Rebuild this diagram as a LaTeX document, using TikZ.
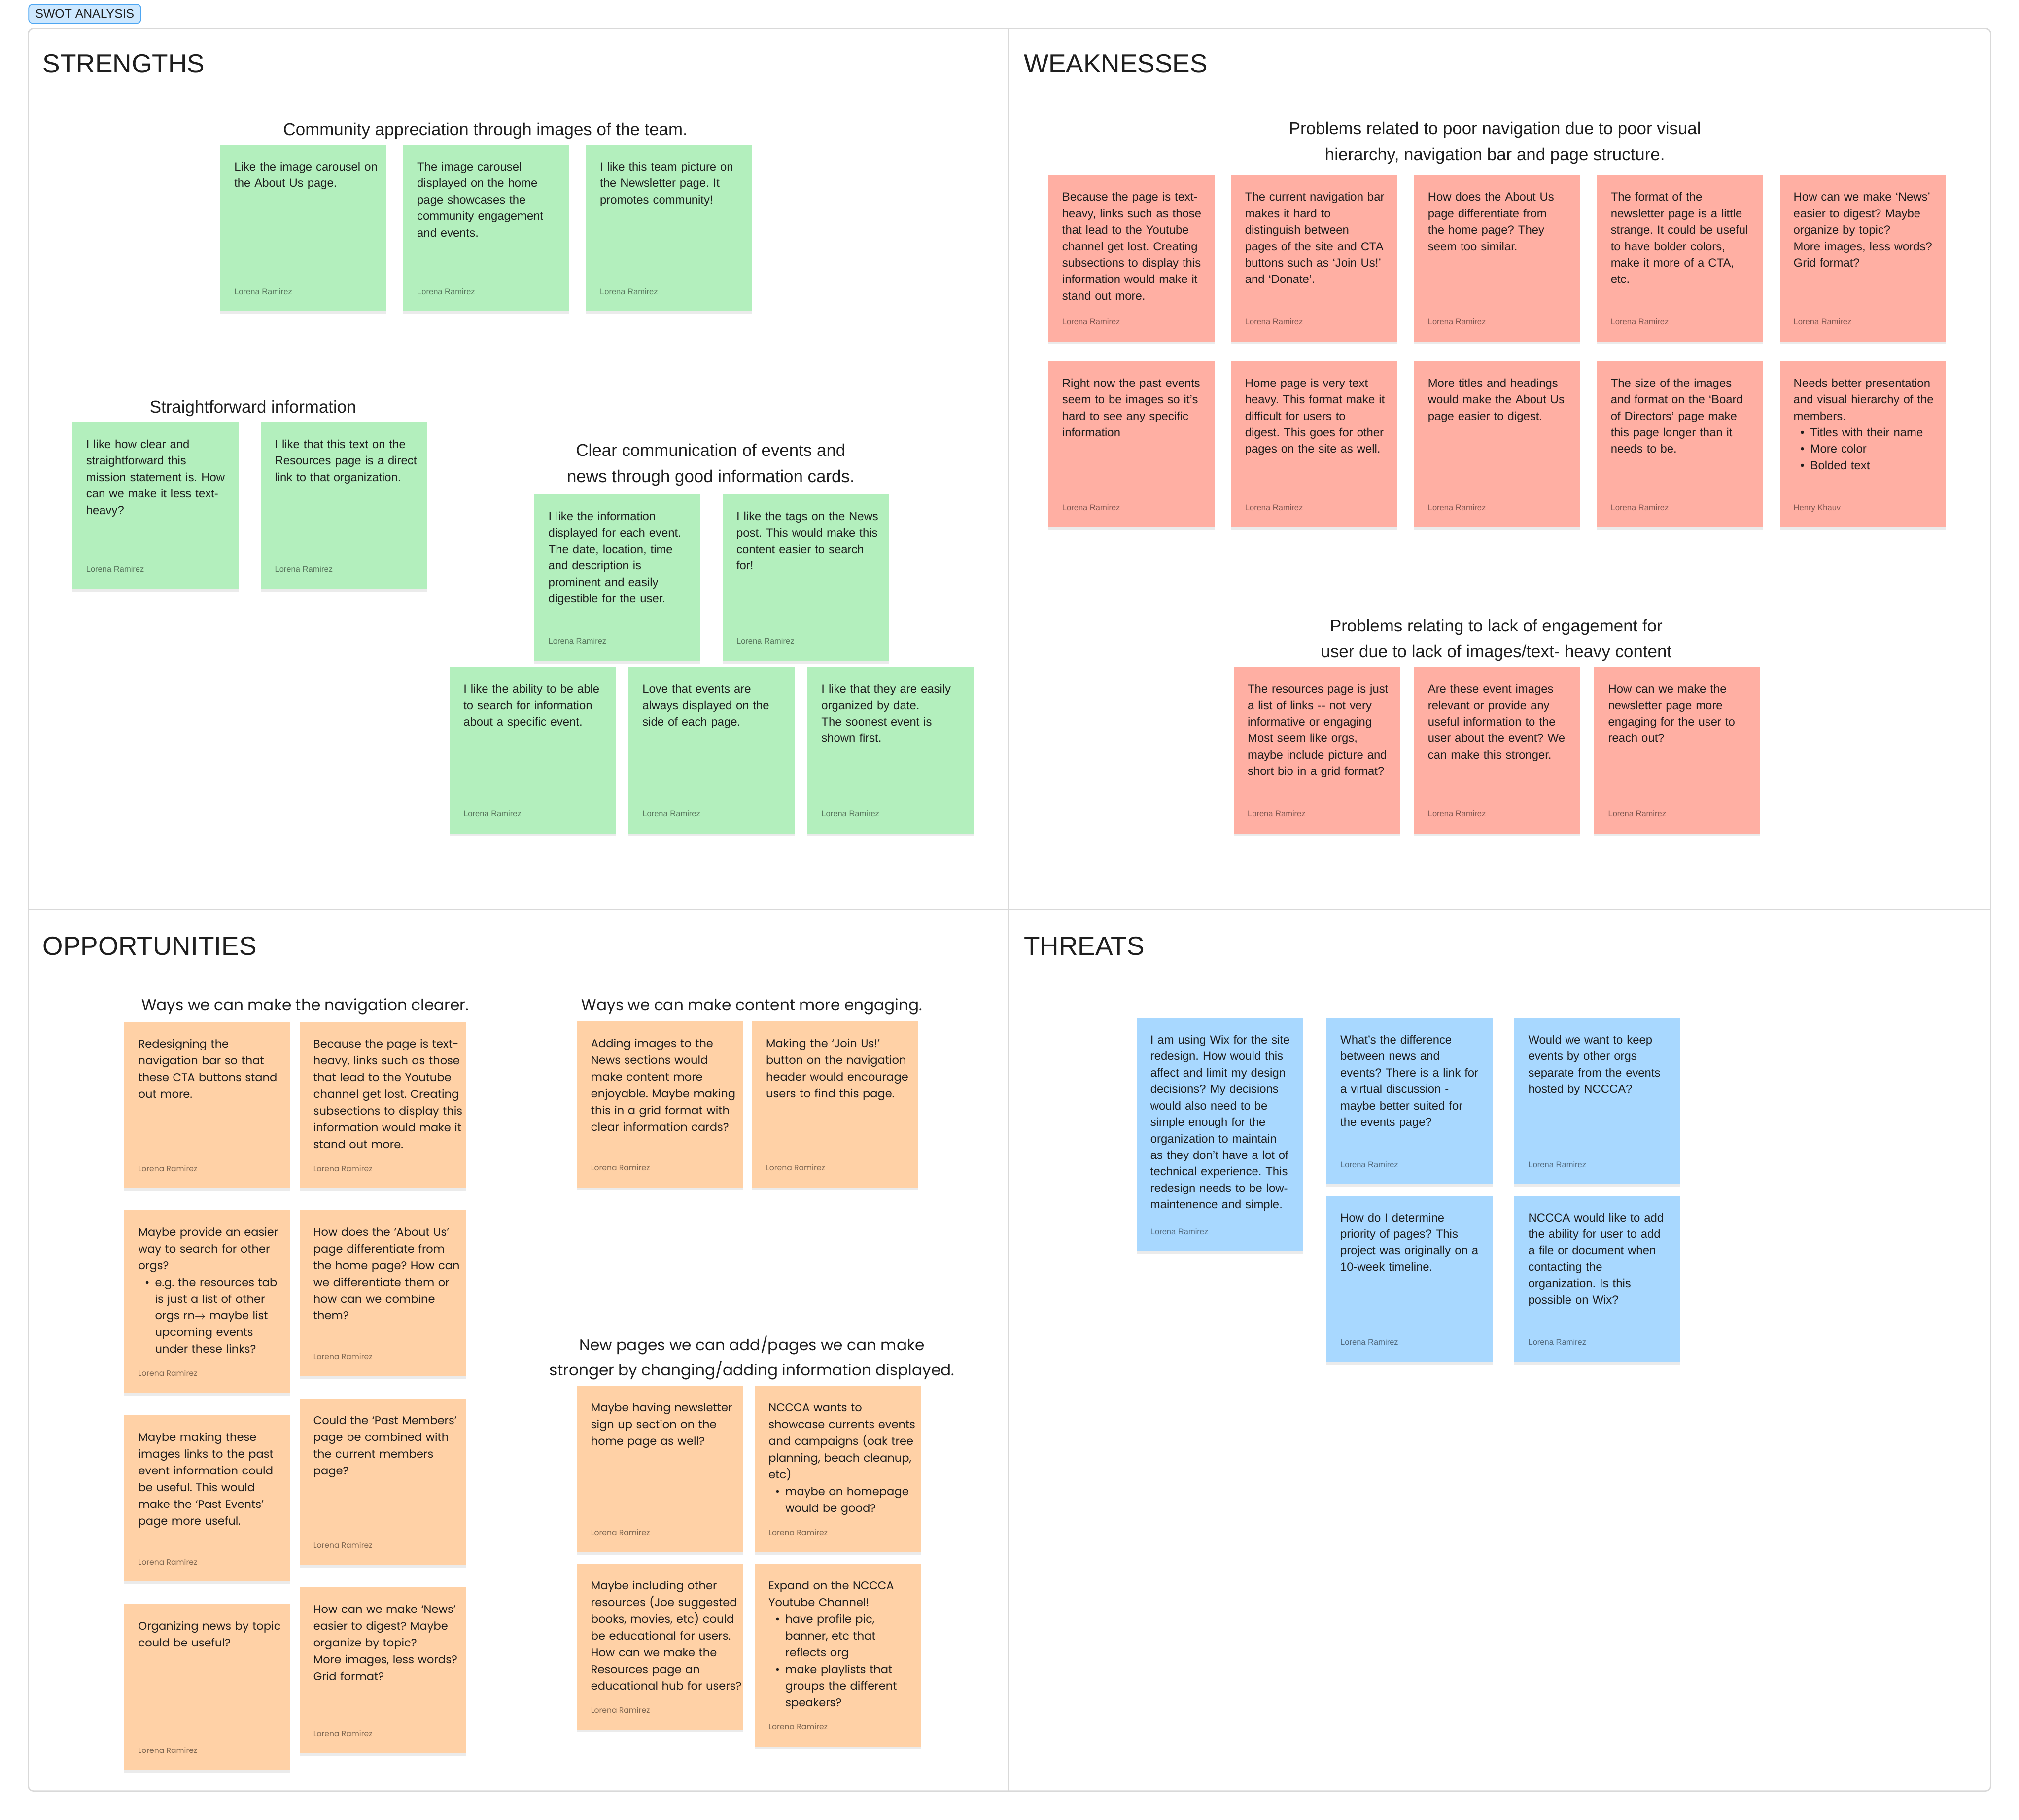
\documentclass[tikz,border=0pt]{standalone}
\usepackage{fontspec}
\setmainfont{Liberation Sans}
\newfontfamily\fuenteopp{Poppins}
\usetikzlibrary{positioning,shadows}
\frenchspacing
\definecolor{Tinta}{HTML}{1E1E1E}
\definecolor{Marco}{HTML}{D9D9D9}
\definecolor{VerdeNota}{HTML}{B3EFBD}
\definecolor{RojoNota}{HTML}{FFAFA3}
\definecolor{NaranjaNota}{HTML}{FFD1A6}
\definecolor{AzulNota}{HTML}{A8D8FF}
\definecolor{AzulBorde}{HTML}{4DA6F2}
\definecolor{AzulInsignia}{HTML}{CDE8FF}
\tikzset{
  notabox/.style={anchor=north west, fill=#1, draw=none, minimum width=64.5mm,
    minimum height=64.5mm, inner sep=0pt,
    drop shadow={shadow xshift=0mm, shadow yshift=-1.1mm, opacity=0.08, fill=black}},
  notatexto/.style={anchor=north west, align=left, text width=62mm, inner sep=0pt,
    text=Tinta, font=\fontsize{13}{18.2}\selectfont},
  notaautor/.style={anchor=base west, inner sep=0pt, text=black, text opacity=0.5,
    font=\fontsize{9}{10}\selectfont},
  cuadrante/.style={anchor=base west, inner sep=0pt, text=Tinta,
    font=\fontsize{29}{34}\selectfont},
  grupo/.style={align=center, inner sep=0pt, text=Tinta,
    font=\fontsize{19}{28.5}\selectfont},
  insignia/.style={draw=AzulBorde, fill=AzulInsignia, rounded corners=1.5mm,
    line width=0.35mm, minimum width=43.5mm, minimum height=7.3mm, inner sep=0pt,
    text=Tinta, font=\fontsize{13.5}{16}\selectfont},
  marco/.style={draw=Marco, line width=0.5mm},
}
% ---- una nota adhesiva: [autor]{nombre}{color y opciones}{esquina}{texto} ----
\newcommand{\postit}[5][Lorena Ramirez]{%
  \node[notabox=#3] (#2) at (#4) {};
  \node[notatexto] (#2-texto) at ([xshift=5.4mm, yshift=-5.5mm]#2.north west) {\strut #5};
  \node[notaautor] (#2-autor) at ([xshift=5.4mm, yshift=6.6mm]#2.south west) {#1};
}
\newcommand{\bala}{\hspace*{2.6mm}\makebox[3.9mm][l]{\textbullet}}
\newcommand{\sangria}{\hspace*{6.5mm}}

\begin{document}
\begin{tikzpicture}[x=0.5mm, y=-0.5mm]
  \useasboundingbox (0,0) rectangle (1568,1413);
  \fill[white] (0,0) rectangle (1568,1413);

  \node[insignia] (insignia) at (65.8,10.8) {SWOT ANALYSIS};
  \draw[marco, rounded corners=2mm] (22,22) rectangle (1546,1391);
  \draw[marco] (783,22) -- (783,1391);
  \draw[marco] (22,706) -- (1546,706);

  \node[cuadrante] (fortalezas) at (33,56.5) {STRENGTHS};
  \node[cuadrante] (debilidades) at (795,56.5) {WEAKNESSES};
  \node[cuadrante] (oportunidades) at (33,741.5) {OPPORTUNITIES};
  \node[cuadrante] (amenazas) at (795,741.5) {THREATS};

  % ---- fortalezas ----
  \node[grupo] (g-comunidad) at (377,101.5) {Community appreciation through images of the team.};
  \postit{s1}{VerdeNota}{171,112.5}{Like the image carousel on\\the About Us page.}
  \postit{s2}{VerdeNota}{313,112.5}{The image carousel\\displayed on the home\\page showcases the\\community engagement\\and events.}
  \postit{s3}{VerdeNota}{455,112.5}{I like this team picture on\\the Newsletter page. It\\promotes community!}

  \node[grupo] (g-directo) at (196.5,317) {Straightforward information};
  \postit{s4}{VerdeNota}{56,328}{I like how clear and\\straightforward this\\mission statement is. How\\can we make it less text-\\heavy?}
  \postit{s5}{VerdeNota}{202.5,328}{I like that this text on the\\Resources page is a direct\\link to that organization.}

  \node[grupo] (g-eventos) at (552,361) {Clear communication of events and\\news through good information cards.};
  \postit{s6}{VerdeNota}{415,384}{I like the information\\displayed for each event.\\The date, location, time\\and description is\\prominent and easily\\digestible for the user.}
  \postit{s7}{VerdeNota}{561,384}{I like the tags on the News\\post. This would make this\\content easier to search\\for!}
  \postit{s8}{VerdeNota}{349,518}{I like the ability to be able\\to search for information\\about a specific event.}
  \postit{s9}{VerdeNota}{488,518}{Love that events are\\always displayed on the\\side of each page.}
  \postit{s10}{VerdeNota}{627,518}{I like that they are easily\\organized by date.\\The soonest event is\\shown first.}

  % ---- debilidades ----
  \node[grupo] (g-navegacion) at (1161,111) {Problems related to poor navigation due to poor visual\\hierarchy, navigation bar and page structure.};
  \postit{w1}{RojoNota}{814,136}{Because the page is text-\\heavy, links such as those\\that lead to the Youtube\\channel get lost. Creating\\subsections to display this\\information would make it\\stand out more.}
  \postit{w2}{RojoNota}{956,136}{The current navigation bar\\makes it hard to\\distinguish between\\pages of the site and CTA\\buttons such as ‘Join Us!’\\and ‘Donate’.}
  \postit{w3}{RojoNota}{1098,136}{How does the About Us\\page differentiate from\\the home page? They\\seem too similar.}
  \postit{w4}{RojoNota}{1240,136}{The format of the\\newsletter page is a little\\strange. It could be useful\\to have bolder colors,\\make it more of a CTA,\\etc.}
  \postit{w5}{RojoNota}{1382,136}{How can we make ‘News’\\easier to digest? Maybe\\organize by topic?\\More images, less words?\\Grid format?}
  \postit{w6}{RojoNota}{814,280.5}{Right now the past events\\seem to be images so it’s\\hard to see any specific\\information}
  \postit{w7}{RojoNota}{956,280.5}{Home page is very text\\heavy. This format make it\\difficult for users to\\digest. This goes for other\\pages on the site as well.}
  \postit{w8}{RojoNota}{1098,280.5}{More titles and headings\\would make the About Us\\page easier to digest.}
  \postit{w9}{RojoNota}{1240,280.5}{The size of the images\\and format on the ‘Board\\of Directors’ page make\\this page longer than it\\needs to be.}
  \postit[Henry Khauv]{w10}{RojoNota}{1382,280.5}{Needs better presentation\\and visual hierarchy of the\\members.\\\bala Titles with their name\\\bala More color\\\bala Bolded text}

  \node[grupo] (g-interaccion) at (1162,497) {Problems relating to lack of engagement for\\user due to lack of images/text- heavy content};
  \postit{w11}{RojoNota}{958,518}{The resources page is just\\a list of links -{}- not very\\informative or engaging\\Most seem like orgs,\\maybe include picture and\\short bio in a grid format?}
  \postit{w12}{RojoNota}{1098,518}{Are these event images\\relevant or provide any\\useful information to the\\user about the event? We\\can make this stronger.}
  \postit{w13}{RojoNota}{1238,518}{How can we make the\\newsletter page more\\engaging for the user to\\reach out?}

  % ---- oportunidades ----
  \begin{scope}[notatexto/.append style={font=\fuenteopp\fontsize{12.3}{18.5}\selectfont},
      notaautor/.append style={font=\fuenteopp\fontsize{8.5}{10}\selectfont},
      grupo/.append style={font=\fuenteopp\fontsize{17}{27.5}\selectfont}]
    \node[grupo] (g-claridad) at (237,781.5) {Ways we can make the navigation clearer.};
    \postit{o1}{NaranjaNota}{96.5,793.5}{Redesigning the\\navigation bar so that\\these CTA buttons stand\\out more.}
    \postit{o2}{NaranjaNota}{232.5,793.5}{Because the page is text-\\heavy, links such as those\\that lead to the Youtube\\channel get lost. Creating\\subsections to display this\\information would make it\\stand out more.}
    \postit{o3}{NaranjaNota, minimum height=71mm}{96.5,939.5}{Maybe provide an easier\\way to search for other\\orgs?\\\bala e.g. the resources tab\\\sangria is just a list of other\\\sangria orgs rn\ensuremath{\rightarrow} maybe list\\\sangria upcoming events\\\sangria under these links?}
    \postit{o4}{NaranjaNota}{232.5,939.5}{How does the ‘About Us’\\page differentiate from\\the home page? How can\\we differentiate them or\\how can we combine\\them?}
    \postit{o5}{NaranjaNota}{96.5,1099}{Maybe making these\\images links to the past\\event information could\\be useful. This would\\make the ‘Past Events’\\page more useful.}
    \postit{o6}{NaranjaNota}{232.5,1086}{Could the ‘Past Members’\\page be combined with\\the current members\\page?}
    \postit{o7}{NaranjaNota}{96.5,1245.5}{Organizing news by topic\\could be useful?}
    \postit{o8}{NaranjaNota}{232.5,1232.5}{How can we make ‘News’\\easier to digest? Maybe\\organize by topic?\\More images, less words?\\Grid format?}

    \node[grupo] (g-contenido) at (584,781.5) {Ways we can make content more engaging.};
    \postit{o9}{NaranjaNota}{448,793}{Adding images to the\\News sections would\\make content more\\enjoyable. Maybe making\\this in a grid format with\\clear information cards?}
    \postit{o10}{NaranjaNota}{584,793}{Making the ‘Join Us!’\\button on the navigation\\header would encourage\\users to find this page.}

    \node[grupo] (g-paginas) at (584,1054.5) {New pages we can add/pages we can make\\stronger by changing/adding information displayed.};
    \postit{o11}{NaranjaNota}{448,1076}{Maybe having newsletter\\sign up section on the\\home page as well?}
    \postit{o12}{NaranjaNota}{586,1076}{NCCCA wants to\\showcase currents events\\and campaigns (oak tree\\planning, beach cleanup,\\etc)\\\bala maybe on homepage\\\sangria would be good?}
    \postit{o13}{NaranjaNota}{448,1214}{Maybe including other\\resources (Joe suggested\\books, movies, etc) could\\be educational for users.\\How can we make the\\Resources page an\\educational hub for users?}
    \postit{o14}{NaranjaNota, minimum height=71mm}{586,1214}{Expand on the NCCCA\\Youtube Channel!\\\bala have profile pic,\\\sangria banner, etc that\\\sangria reflects org\\\bala make playlists that\\\sangria groups the different\\\sangria speakers?}
  \end{scope}

  % ---- amenazas ----
  \postit{t1}{AzulNota, minimum height=90.5mm}{882.5,790.5}{I am using Wix for the site\\redesign. How would this\\affect and limit my design\\decisions? My decisions\\would also need to be\\simple enough for the\\organization to maintain\\as they don’t have a lot of\\technical experience. This\\redesign needs to be low-\\maintenence and simple.}
  \postit{t2}{AzulNota}{1030,790.5}{What’s the difference\\between news and\\events? There is a link for\\a virtual discussion -\\maybe better suited for\\the events page?}
  \postit{t3}{AzulNota}{1176,790.5}{Would we want to keep\\events by other orgs\\separate from the events\\hosted by NCCCA?}
  \postit{t4}{AzulNota}{1030,928.5}{How do I determine\\priority of pages? This\\project was originally on a\\10-week timeline.}
  \postit{t5}{AzulNota}{1176,928.5}{NCCCA would like to add\\the ability for user to add\\a file or document when\\contacting the\\organization. Is this\\possible on Wix?}
\end{tikzpicture}
\end{document}
